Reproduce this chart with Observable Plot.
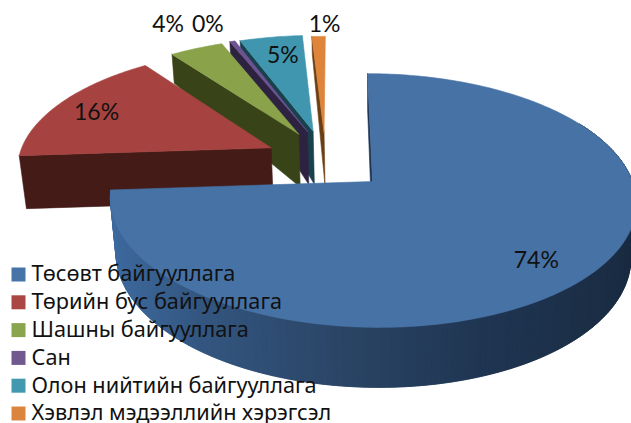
<!DOCTYPE html>
<html>
<head>
<meta charset="utf-8">
<script src="https://cdn.jsdelivr.net/npm/d3@7"></script>
<script src="https://cdn.jsdelivr.net/npm/@observablehq/plot@0.6"></script>
<style>html,body{margin:0;padding:0;background:#fff}svg{display:block}</style>
</head>
<body>
<div id="chart"></div>
<script>
// data
const categories = ["Төсөвт байгууллага","Төрийн бус байгууллага","Шашны байгууллага","Сан","Олон нийтийн байгууллага","Хэвлэл мэдээллийн хэрэгсэл"];
const values = [74, 16, 4, 0.4, 4.7, 1];
const topColors = ["#4672a6","#a64340","#8aa34b","#6f5391","#3f96ae","#de843b"];
const wallColors = ["#1c3350","#441b17","#394318","#2d2340","#18404d","#6b3f14"];
const legendColors = ["#4674a8","#aa4643","#89a54e","#71588f","#4198af","#db843d"];
// layout of the 3-D pie
const exploded = [0, .49, .5, .5, .49, .46];
const explodeTurn = [0, .3, -.5, 0, -2.6, -4];
const labelRadius = [.81, .81, 1.323, 1.235, .783, 1.14];
const labelTurn = [3, -1.6, 0, -2.2, 1.25, 1.6];
const AX = 372, AY = 181, SX = 260, SY = 124, K = .15, LEAN = .046, CONV = .02;
const depthAt = d3.scaleLinear([-1, .2, .45, 1.3, 1.5], [60, 53, 53, 26, 12]);
const sideShade = d3.scaleLinear([110, 200, 340, 500, 631], ["#3e6a9f","#335680","#2b4566","#1e3450","#1a2c42"]);
const rad = d => d * Math.PI / 180;

function project(X, Y, sink = false) {
  const w = 1 + K * Y, py = -SY * Y / w;
  let px = SX * X / w + LEAN * py;
  const dep = sink ? depthAt(Y) : 0;
  px -= px * CONV * dep / 52;
  return [AX + px, AY + py + dep];
}

const total = d3.sum(values);
let acc = 0;
const slices = values.map((v, i) => {
  const start = acc / total * 360; acc += v;
  const end = acc / total * 360, mid = (start + end) / 2;
  const dir = i === 0 ? 0 : 305 + .55 * (mid - 295) + explodeTurn[i];
  return {i, v, start, end, mid, ox: exploded[i] * Math.sin(rad(dir)), oy: exploded[i] * Math.cos(rad(dir))};
});
const onSlice = (s, a, r = 1, sink = false) => project(s.ox + r * Math.sin(rad(a)), s.oy + r * Math.cos(rad(a)), sink);

const rows = [];
let pid = 0;
function poly(points, color) {
  pid++;
  for (const [x, y] of [...points, points[0]]) rows.push({x, y, id: pid, color});
}
function wall(s) {
  poly([onSlice(s, s.start), onSlice(s, s.start, 0), onSlice(s, s.start, 0, true), onSlice(s, s.start, 1, true)], wallColors[s.i]);
}
function topFace(s) {
  const pts = [onSlice(s, s.start, 0)];
  const n = Math.max(2, Math.ceil(s.end - s.start));
  for (let j = 0; j <= n; j++) pts.push(onSlice(s, s.start + (s.end - s.start) * j / n));
  poly(pts, topColors[s.i]);
}
// painter's order: back slices first, blue last
const blue = slices[0];
wall(blue);
for (const i of [5, 4, 3, 2, 1]) { wall(slices[i]); topFace(slices[i]); }
// overlapping strips, so that no seams show between them
for (let a = 60; a < blue.end; a += 1) {
  const b = Math.min(a + 2, blue.end);
  const p = onSlice(blue, a), q = onSlice(blue, b), r = onSlice(blue, b, 1, true), t = onSlice(blue, a, 1, true);
  poly([p, q, r, t], d3.color(sideShade(p[0])).formatHex());
}
topFace(blue);

const labels = slices.map(s => {
  const [x, y] = onSlice(s, s.mid + labelTurn[s.i], labelRadius[s.i]);
  return {x, y, text: Math.round(s.v) + "%"};
});
const legendY = d3.scaleLinear([0, 5], [274, 413]);
const legend = categories.map((name, i) => ({name, color: legendColors[i], y: legendY(i)}));

const chart = Plot.plot({
  width: 631, height: 423, margin: 0,
  x: {domain: [0, 631], range: [0, 631], axis: null},
  y: {domain: [0, 423], range: [0, 423], axis: null},
  color: {type: "identity"},
  marks: [
    Plot.line(rows, {x: "x", y: "y", z: "id", fill: "color", stroke: "color", strokeWidth: .6, curve: "linear"}),
    Plot.text(labels, {x: "x", y: "y", text: "text", fontSize: 23, fontFamily: "Lato, 'Noto Sans', sans-serif", fill: "#111", textAnchor: "middle"}),
    Plot.dot(legend, {x: () => 18, y: "y", symbol: "square", r: 7.9, fill: "color", stroke: null}),
    Plot.text(legend, {x: () => 31, y: "y", text: "name", fontSize: 21.7, fontFamily: "'Noto Sans', sans-serif", fill: "#111", textAnchor: "start"})
  ]
});
document.getElementById("chart").append(chart);
</script>
</body>
</html>
